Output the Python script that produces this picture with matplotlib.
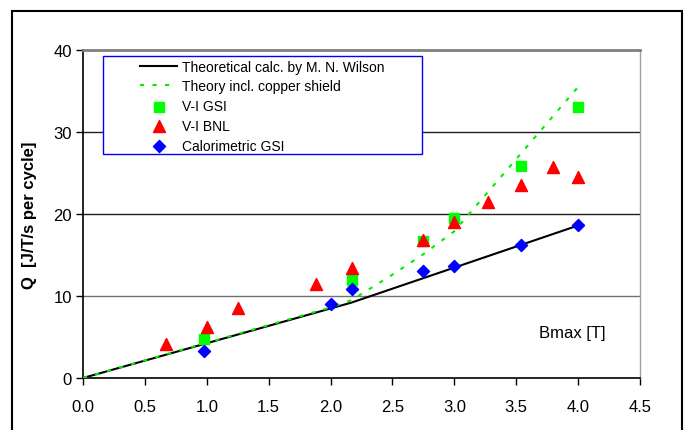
import matplotlib.pyplot as plt
from matplotlib.patches import Rectangle

plt.rcParams['font.family'] = ['Liberation Sans', 'DejaVu Sans']

# theory curves
wilson_b = [0.0, 2.17, 4.0]
wilson_q = [0.0, 9.2, 18.6]
copper_b = [0.0, 1.0, 2.0, 2.17, 2.5, 2.75, 3.0, 3.5, 4.0]
copper_q = [0.0, 4.3, 8.6, 9.5, 12.6, 15.1, 17.9, 26.7, 35.5]

# V-I GSI
vigsi_b = [0.98, 2.17, 2.75, 3.0, 3.54, 4.0]
vigsi_q = [4.8, 11.9, 16.7, 19.5, 25.8, 33.0]

# V-I BNL
vibnl_b = [0.67, 1.0, 1.25, 1.88, 2.17, 2.75, 3.0, 3.27, 3.54, 3.8, 4.0]
vibnl_q = [4.2, 6.2, 8.5, 11.5, 13.4, 16.8, 19.0, 21.5, 23.5, 25.7, 24.5]

# Calorimetric GSI
cal_b = [0.98, 2.0, 2.17, 2.75, 3.0, 3.54, 4.0]
cal_q = [3.3, 9.0, 10.9, 13.0, 13.6, 16.2, 18.6]

fig = plt.figure(figsize=(6.84, 4.31), dpi=100)
ax = fig.add_axes([83/684, 1-379/431, (640-83)/684, (379-51)/431])

# outer chart frame
fig.patches.append(Rectangle((11.5/684, -0.05), 670/684, (431-12)/431 + 0.05,
                             transform=fig.transFigure, fill=False,
                             edgecolor='black', linewidth=1.5))

for yv in [10, 20, 30]:
    ax.axhline(yv, color='#202020' if yv > 10 else '#707070', linewidth=1, zorder=1)

ax.plot(wilson_b, wilson_q, color='black', linewidth=1.5, zorder=3,
        label='Theoretical calc. by M. N. Wilson')
ax.plot(copper_b, copper_q, color='#00ee00', linewidth=1.5, linestyle=(0, (2, 4)), zorder=4,
        label='Theory incl. copper shield')
ax.scatter(vigsi_b, vigsi_q, marker='s', s=55, color='#00ff00', zorder=5, label='V-I GSI')
ax.scatter(vibnl_b, vibnl_q, marker='^', s=75, color='#ff0000', zorder=6, label='V-I BNL')
ax.scatter(cal_b, cal_q, marker='D', s=38, color='#0000ff', zorder=7, label='Calorimetric GSI')

ax.set_xlim(0, 4.5)
ax.set_ylim(0, 40)
ax.set_xticks([0.0, 0.5, 1.0, 1.5, 2.0, 2.5, 3.0, 3.5, 4.0, 4.5])
ax.set_xticklabels(['0.0', '0.5', '1.0', '1.5', '2.0', '2.5', '3.0', '3.5', '4.0', '4.5'])
ax.set_yticks([0, 10, 20, 30, 40])
ax.tick_params(axis='both', direction='out', length=5, width=1, labelsize=12, pad=3)
ax.tick_params(axis='x', pad=10)

for side in ['left', 'bottom']:
    ax.spines[side].set_color('black')
    ax.spines[side].set_linewidth(1.2)
ax.spines['top'].set_color('#808080')
ax.spines['top'].set_linewidth(2)
ax.spines['right'].set_color('#a0a0a0')
ax.spines['right'].set_linewidth(1)

ax.set_ylabel('Q  [J/T/s per cycle]', fontsize=12, fontweight='bold', labelpad=12)
ax.text(3.95, 5.6, 'Bmax [T]', fontsize=12, ha='center', va='center')

# legend box (blue border, white fill)
ax.add_patch(Rectangle((0.0354, 0.683), 0.5726, 0.2996, transform=ax.transAxes,
                       facecolor='white', edgecolor='#0000ff', linewidth=1, zorder=8))
leg = ax.legend(loc='upper left', bbox_to_anchor=(0.1023, 0.971), fontsize=10,
                frameon=False, borderpad=0, labelspacing=0.42, handlelength=2.7,
                handletextpad=0.3, borderaxespad=0)
leg.set_zorder(9)

fig.savefig('out.png', dpi=100)
